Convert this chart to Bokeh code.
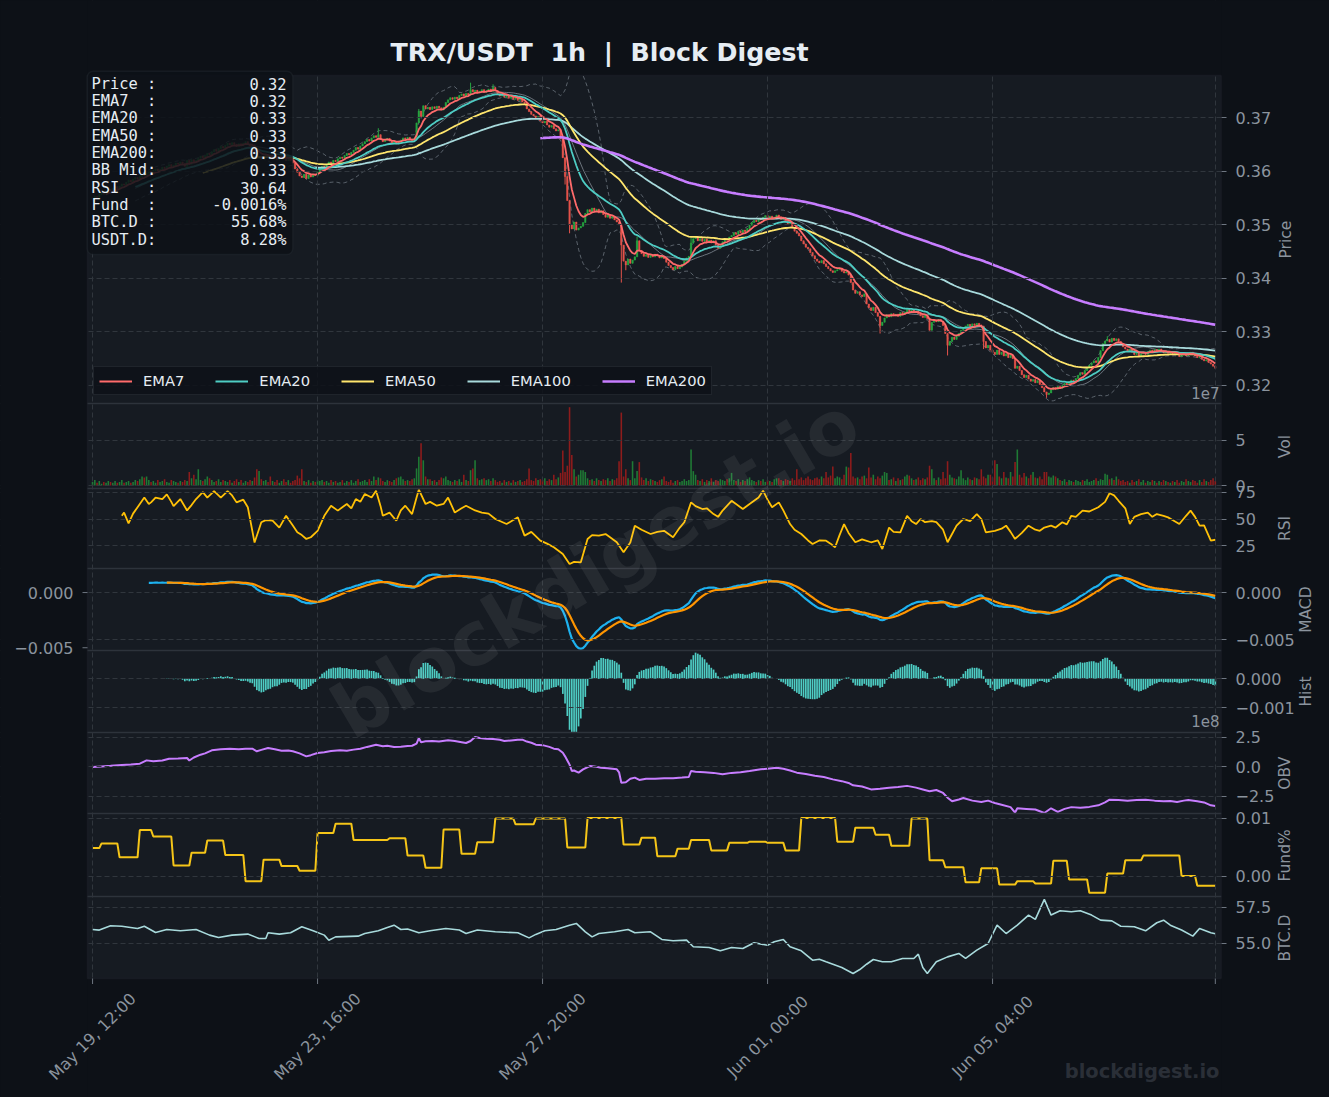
import numpy as np
import pandas as pd
from math import pi, radians
from bokeh.plotting import figure
from bokeh.models import (Range1d, LinearAxis, FixedTicker, Label, BoxAnnotation, Legend,
                          LegendItem, ColumnDataSource, Span, Arrow)
from bokeh.embed import file_html
from bokeh.resources import INLINE

# ------------------------------------------------------------------ data
START = "2025-05-19 12:00"          # first hourly candle
first_open = 0.3548

close = [
 0.3550, 0.3553, 0.3549, 0.3556, 0.3560, 0.3557, 0.3562, 0.3566, 0.3563, 0.3568,
 0.3571, 0.3567, 0.3572, 0.3576, 0.3574, 0.3579, 0.3583, 0.3580, 0.3585, 0.3588,
 0.3585, 0.3590, 0.3594, 0.3591, 0.3596, 0.3600, 0.3597, 0.3601, 0.3604, 0.3600,
 0.3603, 0.3607, 0.3605, 0.3609, 0.3612, 0.3608, 0.3611, 0.3615, 0.3613, 0.3617,
 0.3614, 0.3609, 0.3620, 0.3613, 0.3621, 0.3617, 0.3620, 0.3624, 0.3628, 0.3625,
 0.3629, 0.3633, 0.3630, 0.3636, 0.3640, 0.3637, 0.3642, 0.3646, 0.3643, 0.3648,
 0.3652, 0.3649, 0.3653, 0.3650, 0.3646, 0.3651, 0.3648, 0.3652, 0.3655, 0.3650,
 0.3647, 0.3649, 0.3632, 0.3624, 0.3628, 0.3622, 0.3626, 0.3630, 0.3627, 0.3624,
 0.3628, 0.3625, 0.3621, 0.3626, 0.3629, 0.3624, 0.3620, 0.3623, 0.3619, 0.3615,
 0.3604, 0.3598, 0.3591, 0.3588, 0.3594, 0.3586, 0.3593, 0.3589, 0.3594, 0.3592,
 0.3598, 0.3603, 0.3609, 0.3606, 0.3612, 0.3617, 0.3614, 0.3620, 0.3618, 0.3623,
 0.3626, 0.3624, 0.3629, 0.3633, 0.3630, 0.3635, 0.3639, 0.3644, 0.3641, 0.3647,
 0.3651, 0.3655, 0.3659, 0.3656, 0.3662, 0.3666, 0.3663, 0.3668, 0.3659, 0.3655,
 0.3658, 0.3661, 0.3656, 0.3652, 0.3655, 0.3651, 0.3654, 0.3658, 0.3662, 0.3659,
 0.3663, 0.3660, 0.3657, 0.3661, 0.3690, 0.3712, 0.3702, 0.3722, 0.3716, 0.3719,
 0.3715, 0.3720, 0.3717, 0.3721, 0.3718, 0.3714, 0.3719, 0.3728, 0.3733, 0.3737,
 0.3734, 0.3738, 0.3735, 0.3741, 0.3744, 0.3740, 0.3745, 0.3742, 0.3752, 0.3748,
 0.3751, 0.3746, 0.3749, 0.3752, 0.3747, 0.3750, 0.3753, 0.3749, 0.3756, 0.3750,
 0.3744, 0.3740, 0.3743, 0.3738, 0.3741, 0.3736, 0.3739, 0.3734, 0.3737, 0.3732,
 0.3735, 0.3729, 0.3726, 0.3716, 0.3711, 0.3706, 0.3703, 0.3699, 0.3702, 0.3694,
 0.3690, 0.3693, 0.3686, 0.3682, 0.3685, 0.3679, 0.3675, 0.3677, 0.3660, 0.3625,
 0.3590, 0.3545, 0.3500, 0.3492, 0.3505, 0.3490, 0.3494, 0.3497, 0.3504, 0.3521,
 0.3528, 0.3524, 0.3531, 0.3526, 0.3529, 0.3522, 0.3526, 0.3519, 0.3514, 0.3518,
 0.3512, 0.3515, 0.3509, 0.3505, 0.3500, 0.3462, 0.3432, 0.3425, 0.3436, 0.3428,
 0.3434, 0.3440, 0.3470, 0.3452, 0.3446, 0.3441, 0.3444, 0.3439, 0.3443, 0.3440,
 0.3445, 0.3442, 0.3438, 0.3441, 0.3437, 0.3430, 0.3424, 0.3420, 0.3416, 0.3422,
 0.3418, 0.3421, 0.3426, 0.3432, 0.3438, 0.3441, 0.3466, 0.3474, 0.3478, 0.3470,
 0.3474, 0.3469, 0.3473, 0.3467, 0.3471, 0.3466, 0.3470, 0.3462, 0.3456, 0.3460,
 0.3468, 0.3474, 0.3471, 0.3477, 0.3480, 0.3485, 0.3482, 0.3488, 0.3485, 0.3490,
 0.3487, 0.3493, 0.3499, 0.3504, 0.3508, 0.3506, 0.3511, 0.3509, 0.3514, 0.3517,
 0.3513, 0.3516, 0.3511, 0.3514, 0.3518, 0.3515, 0.3510, 0.3513, 0.3506, 0.3502,
 0.3503, 0.3494, 0.3488, 0.3484, 0.3479, 0.3470, 0.3464, 0.3458, 0.3455, 0.3448,
 0.3442, 0.3436, 0.3432, 0.3429, 0.3433, 0.3427, 0.3422, 0.3418, 0.3414, 0.3411,
 0.3414, 0.3416, 0.3419, 0.3413, 0.3410, 0.3412, 0.3406, 0.3392, 0.3378, 0.3372,
 0.3375, 0.3369, 0.3366, 0.3371, 0.3352, 0.3345, 0.3340, 0.3346, 0.3336, 0.3329,
 0.3312, 0.3318, 0.3326, 0.3332, 0.3328, 0.3334, 0.3330, 0.3333, 0.3329, 0.3336,
 0.3333, 0.3337, 0.3342, 0.3338, 0.3341, 0.3336, 0.3339, 0.3334, 0.3330, 0.3327,
 0.3331, 0.3325, 0.3303, 0.3318, 0.3322, 0.3319, 0.3323, 0.3320, 0.3312, 0.3297,
 0.3275, 0.3282, 0.3290, 0.3286, 0.3292, 0.3297, 0.3303, 0.3308, 0.3311, 0.3314,
 0.3310, 0.3315, 0.3312, 0.3316, 0.3313, 0.3311, 0.3282, 0.3270, 0.3275, 0.3266,
 0.3262, 0.3258, 0.3266, 0.3258, 0.3262, 0.3255, 0.3259, 0.3252, 0.3256, 0.3250,
 0.3232, 0.3236, 0.3228, 0.3220, 0.3215, 0.3219, 0.3212, 0.3208, 0.3211, 0.3205,
 0.3209, 0.3202, 0.3196, 0.3188, 0.3183, 0.3186, 0.3192, 0.3196, 0.3193, 0.3198,
 0.3195, 0.3200, 0.3204, 0.3201, 0.3206, 0.3210, 0.3207, 0.3213, 0.3219, 0.3224,
 0.3221, 0.3228, 0.3233, 0.3238, 0.3242, 0.3246, 0.3243, 0.3252, 0.3265, 0.3278,
 0.3283, 0.3286, 0.3281, 0.3288, 0.3284, 0.3287, 0.3282, 0.3278, 0.3272, 0.3268,
 0.3264, 0.3268, 0.3262, 0.3258, 0.3261, 0.3255, 0.3259, 0.3262, 0.3258, 0.3263,
 0.3266, 0.3262, 0.3267, 0.3264, 0.3268, 0.3265, 0.3261, 0.3264, 0.3260, 0.3263,
 0.3259, 0.3262, 0.3258, 0.3254, 0.3257, 0.3260, 0.3256, 0.3259, 0.3262, 0.3258,
 0.3255, 0.3252, 0.3254, 0.3249, 0.3246, 0.3248, 0.3243, 0.3240, 0.3236, 0.3232,
]

# hourly volume, millions
volume_m = [
 4, 6, 3, 5, 2, 4, 3, 5, 4, 3,   5, 3, 4, 6, 3, 4, 5, 3, 4, 6,
 5, 7, 10, 9, 10, 6, 4, 5, 3, 6,  4, 5, 7, 4, 3, 6, 5, 4, 3, 5,
 4, 6, 5, 15, 8, 12, 7, 18, 6, 5, 7, 10, 8, 6, 4, 5, 7, 4, 6, 5,
 4, 6, 3, 5, 7, 4, 6, 3, 5, 4,   6, 5, 9, 18, 16, 7, 5, 6, 4, 10,
 5, 4, 6, 3, 5, 7, 4, 6, 3, 5,   6, 11, 8, 18, 5, 4, 6, 3, 5, 4,
 6, 5, 6, 4, 5, 3, 6, 4, 5, 3,   4, 6, 3, 5, 4, 6, 3, 5, 7, 4,
 5, 6, 4, 7, 5, 10, 6, 9, 8, 5,  4, 6, 5, 4, 6, 8, 9, 10, 7, 5,
 6, 5, 7, 8, 19, 32, 47, 28, 10, 7, 7, 5, 6, 4, 6, 9, 8, 10, 6, 5,
 4, 6, 5, 7, 4, 12, 6, 5, 17, 19, 28, 8, 6, 7, 8, 6, 7, 5, 8, 6,
 4, 5, 3, 6, 4, 5, 3, 6, 4, 5,   6, 4, 5, 7, 19, 6, 5, 8, 6, 7,
 6, 8, 5, 7, 6, 12, 7, 9, 14, 39, 15, 22, 87, 34, 18, 10, 12, 17, 17, 15,
 8, 6, 7, 5, 8, 6, 5, 7, 6, 8,   5, 7, 6, 8, 27, 81, 10, 18, 8, 6,
 27, 8, 16, 26, 9, 6, 8, 5, 7, 6, 5, 4, 6, 7, 10, 5, 4, 6, 3, 5,
 6, 4, 5, 7, 5, 6, 40, 16, 12, 6, 5, 7, 4, 6, 5, 8, 4, 6, 5, 7,
 6, 5, 7, 8, 14, 6, 5, 7, 4, 6,  5, 7, 9, 6, 5, 4, 6, 5, 7, 4,
 6, 5, 4, 7, 8, 8, 6, 5, 7, 6,   5, 8, 6, 18, 7, 9, 6, 8, 10, 7,
 6, 8, 9, 7, 10, 8, 15, 9, 11, 21, 8, 10, 9, 7, 12, 21, 20, 36, 10, 8,
 9, 7, 10, 11, 8, 20, 9, 12, 7, 10, 8, 11, 15, 14, 6, 7, 9, 5, 8, 6,
 7, 10, 12, 11, 8, 6, 7, 9, 6, 8, 7, 9, 22, 18, 8, 6, 9, 7, 15, 8,
 27, 12, 9, 8, 7, 10, 17, 8, 6, 9, 7, 6, 9, 8, 7, 18, 10, 8, 12, 12,
 9, 28, 24, 10, 8, 15, 9, 8, 15, 10, 26, 40, 12, 9, 14, 10, 8, 12, 15, 9,
 8, 10, 7, 15, 15, 10, 9, 11, 10, 8, 6, 5, 7, 4, 6, 5, 4, 6, 5, 4,
 6, 5, 7, 4, 5, 6, 8, 5, 7, 6,   13, 12, 7, 8, 6, 10, 7, 5, 6, 4,
 5, 3, 6, 4, 5, 7, 4, 6, 3, 5,   4, 6, 5, 3, 5, 4, 6, 5, 4, 3,
 5, 4, 6, 3, 5, 4, 7, 5, 4, 6,   5, 3, 6, 4, 7, 5, 4, 6, 8, 5,
]

# notable wicks (hour -> price)
wick_high = {127: 0.3680, 145: 0.3716, 168: 0.3765, 178: 0.3762, 242: 0.3478,
             266: 0.3476, 300: 0.3522, 451: 0.3292}
wick_low = {210: 0.3575, 212: 0.3484, 235: 0.3392, 237: 0.3415, 350: 0.3297,
            380: 0.3256, 396: 0.3268, 424: 0.3177}

# RSI (hour, value)
rsi_points = [
 (13, 53), (14, 56), (16, 46), (18, 55), (20, 61), (23, 70), (25, 64), (26, 65.5), (28, 70),
 (31, 68.6), (33, 73), (35, 66), (36, 62), (39, 68.6), (42, 58), (44, 63), (46, 68.6),
 (49, 75), (51, 70), (54, 76), (57, 70), (60, 76), (62, 72), (64, 65.5), (67, 68), (69, 61),
 (70, 50), (72, 28), (75, 47), (77, 49), (80, 48.4), (83, 42), (86, 53), (89, 44),
 (91, 37.6), (93, 35), (95, 31.4), (97, 33), (100, 39), (103, 53), (106, 62.4), (109, 57.8),
 (111, 61), (113, 64), (115, 60), (117, 68.6), (119, 66), (121, 73.3), (124, 70), (126, 76.4),
 (128, 62), (129, 53), (132, 56), (135, 48.4), (137, 58), (139, 62.4), (142, 54.6),
 (144, 70), (145, 77.3), (148, 64), (150, 66), (153, 62.4), (156, 64), (158, 70), (161, 56),
 (164, 60), (166, 62.4), (170, 58), (173, 56), (176, 55), (179, 50), (184, 45.3),
 (187, 49), (189, 51.5), (192, 34.5), (195, 38), (199, 29.8), (202, 27), (205, 23.6),
 (209, 17.4), (212, 8), (214, 10), (217, 9.6), (220, 31.4), (222, 35), (225, 34.5),
 (228, 36), (230, 33), (233, 28.3), (236, 19), (239, 28), (241, 43.8), (244, 40),
 (248, 36), (251, 38), (254, 39), (256, 36), (258, 33), (261, 42), (263, 47), (266, 65.5),
 (268, 62), (271, 59.3), (273, 60), (276, 54.6), (278, 52), (280, 57.8), (284, 67),
 (286, 64), (289, 59.3), (292, 64), (294, 67), (296, 70), (298, 76.4), (300, 68),
 (302, 61), (305, 65.5), (307, 58), (310, 45.3), (312, 40), (315, 36), (318, 30),
 (320, 26.7), (323, 30), (326, 29.8), (328, 27), (330, 23.6), (332, 35), (334, 45.3),
 (336, 37), (339, 28.3), (342, 31), (346, 28.3), (349, 30), (351, 22), (354, 42),
 (356, 38), (359, 37.6), (362, 53), (364, 48), (366, 45.3), (368, 50), (370, 47),
 (373, 48), (375, 47), (378, 40), (380, 28.3), (382, 36), (384, 43.8), (387, 50),
 (390, 48), (393, 54.6), (395, 50), (397, 37.6), (401, 39), (404, 41), (406, 43.8),
 (408, 38), (410, 31.4), (413, 37), (416, 43.8), (419, 40), (421, 39), (423, 42),
 (426, 43.8), (428, 42), (431, 47), (433, 45), (435, 53), (437, 52), (440, 57.8),
 (443, 57), (447, 61), (450, 66), (452, 74), (454, 72), (456, 67), (459, 60), (461, 45.3),
 (463, 52), (466, 54.6), (469, 56), (471, 52), (473, 54.6), (476, 53), (478, 51.5),
 (480, 49), (483, 45.3), (486, 53), (488, 57.8), (490, 52), (492, 43.8), (494, 44),
 (497, 29.8), (499, 30.64),
]

# OBV (hour, value in 1e8)
obv_points = [
 (0, 0.0), (4, 0.05), (8, 0.1), (13, 0.17), (17, 0.2), (21, 0.28), (24, 0.56), (27, 0.48),
 (31, 0.55), (34, 0.7), (38, 0.72), (42, 0.76), (43, 0.55), (45, 0.8), (48, 1.04),
 (50, 1.15), (53, 1.41), (57, 1.5), (61, 1.55), (65, 1.5), (68, 1.55), (71, 1.55),
 (73, 1.33), (75, 1.45), (78, 1.6), (81, 1.5), (84, 1.38), (87, 1.4), (89, 1.33),
 (92, 1.15), (95, 0.9), (97, 1.0), (100, 1.19), (103, 1.25), (106, 1.35), (110, 1.41),
 (113, 1.38), (116, 1.47), (119, 1.55), (122, 1.7), (126, 1.89), (129, 1.75), (131, 1.8),
 (134, 1.69), (137, 1.72), (140, 1.78), (142, 1.8), (144, 1.98), (145, 2.45), (146, 2.1),
 (148, 2.17), (151, 2.2), (154, 2.15), (158, 2.26), (161, 2.2), (164, 2.1), (166, 2.03),
 (168, 2.2), (170, 2.54), (172, 2.45), (175, 2.4), (178, 2.37), (181, 2.3), (183, 2.2),
 (186, 2.25), (189, 2.3), (191, 2.31), (193, 2.15), (195, 2.05), (197, 1.89), (200, 1.85),
 (203, 1.7), (205, 1.55), (207, 1.5), (209, 1.2), (210, 0.9), (212, 0.2), (213, -0.34),
 (214, -0.3), (216, -0.48), (218, -0.2), (221, 0.08), (223, 0.05), (226, -0.06),
 (229, -0.1), (233, -0.2), (234, -0.45), (235, -1.33), (237, -1.3), (239, -1.0),
 (241, -0.9), (243, -1.1), (246, -1.0), (250, -1.0), (254, -0.95), (258, -0.95),
 (262, -0.9), (265, -0.85), (266, -0.34), (268, -0.4), (272, -0.45), (276, -0.5),
 (280, -0.62), (284, -0.5), (288, -0.45), (292, -0.35), (297, -0.2), (301, -0.12),
 (304, -0.06), (307, -0.15), (310, -0.3), (313, -0.48), (317, -0.6), (321, -0.75),
 (325, -0.85), (329, -1.05), (333, -1.2), (336, -1.35), (338, -1.55), (342, -1.65),
 (346, -1.9), (350, -1.85), (354, -1.75), (358, -1.7), (362, -1.6), (366, -1.75),
 (369, -1.9), (372, -2.05), (375, -1.95), (378, -2.2), (380, -2.6), (382, -2.9),
 (385, -2.75), (387, -2.63), (391, -2.85), (395, -2.96), (398, -2.85), (401, -3.05),
 (404, -3.2), (408, -3.4), (410, -3.86), (411, -3.5), (415, -3.55), (419, -3.6),
 (421, -3.75), (423, -3.9), (426, -3.5), (429, -3.8), (432, -3.55), (435, -3.4),
 (439, -3.45), (443, -3.38), (447, -3.25), (450, -3.0), (452, -2.77), (456, -2.8),
 (460, -2.85), (464, -2.8), (468, -2.77), (472, -2.85), (476, -2.9), (479, -2.88),
 (482, -2.96), (485, -2.85), (487, -2.8), (491, -2.9), (494, -3.0), (497, -3.25),
 (499, -3.3),
]

# BTC dominance (hour, %)
btcd_points = [
 (0, 55.97), (3, 55.93), (8, 56.23), (13, 56.20), (20, 56.04), (23, 56.20), (28, 55.76),
 (33, 55.97), (39, 55.88), (46, 55.97), (52, 55.58), (56, 55.42), (62, 55.58), (69, 55.65),
 (74, 55.35), (77, 55.35), (78, 55.74), (83, 55.65), (88, 55.74), (93, 56.16), (98, 55.88),
 (103, 55.58), (105, 55.23), (108, 55.46), (118, 55.51), (121, 55.69), (127, 55.88),
 (131, 56.11), (134, 56.27), (137, 55.97), (140, 56.0), (145, 55.74), (150, 55.88),
 (157, 56.04), (163, 55.93), (166, 55.69), (171, 55.93), (179, 55.81), (189, 55.74),
 (194, 55.39), (197, 55.63), (201, 55.88), (206, 55.97), (212, 56.27), (215, 56.39),
 (219, 55.81), (222, 55.46), (225, 55.69), (232, 55.81), (238, 55.97), (241, 55.74),
 (248, 55.81), (253, 55.28), (258, 55.19), (264, 55.23), (267, 54.77), (274, 54.72),
 (279, 54.49), (284, 54.72), (289, 54.65), (294, 55.05), (300, 54.88), (303, 55.12),
 (307, 55.28), (310, 54.77), (315, 54.49), (320, 53.84), (323, 53.91), (326, 53.73),
 (333, 53.33), (338, 52.92), (341, 53.19), (344, 53.56), (347, 53.89), (351, 53.73),
 (355, 53.73), (360, 53.96), (365, 53.96), (367, 54.26), (369, 53.33), (371, 52.92),
 (375, 53.73), (380, 54.07), (385, 54.31), (388, 53.96), (393, 54.54), (398, 55.0),
 (402, 56.27), (406, 55.69), (411, 56.27), (416, 56.97), (419, 56.67), (423, 58.06),
 (426, 56.97), (430, 57.27), (435, 57.2), (439, 57.27), (444, 56.97), (448, 56.62),
 (453, 56.57), (457, 56.2), (463, 56.16), (468, 55.88), (473, 56.44), (476, 56.62),
 (479, 56.27), (484, 55.93), (489, 55.51), (492, 56.04), (497, 55.74), (499, 55.68),
]

# funding rate: (hour the value starts, value)
fund_steps = [
 (0, 0.0049), (4, 0.0057), (12, 0.0033), (21, 0.0080), (27, 0.0069), (36, 0.0019),
 (44, 0.0041), (51, 0.0062), (59, 0.0037), (68, -0.0008), (76, 0.0029), (84, 0.0018),
 (92, 0.0010), (100, 0.0075), (108, 0.0091), (116, 0.0063), (132, 0.0066), (140, 0.0036),
 (148, 0.0015), (156, 0.0081), (164, 0.0039), (171, 0.0059), (179, 0.0100), (188, 0.0090),
 (197, 0.0100), (211, 0.0050), (220, 0.0101), (236, 0.0055), (244, 0.0067), (251, 0.0035),
 (260, 0.0048), (266, 0.0063), (275, 0.0045), (283, 0.0058), (292, 0.0060), (300, 0.0058),
 (308, 0.0045), (315, 0.0101), (331, 0.0060), (339, 0.0084), (348, 0.0072), (355, 0.0053),
 (364, 0.0100), (372, 0.0028), (379, 0.0016), (388, -0.0010), (395, 0.0014), (403, -0.0014),
 (411, -0.0008), (419, -0.0012), (427, 0.0027), (434, -0.0005), (443, -0.0028),
 (451, 0.0005), (459, 0.0028), (467, 0.0036), (484, 0.0001), (491, -0.0016),
]

x_tick_hours = [0, 100, 200, 300, 400, 499]

price_ticks = [0.32, 0.33, 0.34, 0.35, 0.36, 0.37]
vol_ticks = [0, 5e7]
rsi_ticks = [25, 50, 75]
macd_ticks = [0.0, -0.005]
hist_ticks = [0.0, -0.001]
obv_ticks = [2.5e8, 0.0, -2.5e8]
fund_ticks = [0.01, 0.0]
btcd_ticks = [55.0, 57.5]

stats_names = ["Price :", "EMA7  :", "EMA20 :", "EMA50 :", "EMA200:", "BB Mid:",
               "RSI   :", "Fund  :", "BTC.D :", "USDT.D:"]
stats_values = ["0.32", "0.32", "0.33", "0.33", "0.33", "0.33", "30.64",
                "-0.0016%", "55.68%", "8.28%"]

TITLE = "TRX/USDT  1h  |  Block Digest"
WATERMARK = "blockdigest.io"

# ------------------------------------------------------------------ derived series
n = len(close)
hrs = np.arange(n)
c = pd.Series(close, dtype=float)
o = c.shift(1)
o.iloc[0] = first_open
body_top = np.maximum(o.values, c.values)
body_bot = np.minimum(o.values, c.values)
hi = body_top.copy()
lo = body_bot.copy()
for h, v in wick_high.items():
    hi[h] = max(hi[h], v)
for h, v in wick_low.items():
    lo[h] = min(lo[h], v)
up = c.values >= o.values

UP, DN = "#26a641", "#e5534b"
VUP, VDN = "#1f7a35", "#8e1c1c"
cs = ColumnDataSource(dict(
    x=hrs, top=body_top, bot=body_bot, hi=hi, lo=lo,
    col=np.where(up, UP, DN), vcol=np.where(up, VUP, VDN),
    vol=np.array(volume_m, dtype=float) * 1e6,
))

ema = {s: c.ewm(span=s, adjust=False, min_periods=s).mean() for s in (7, 20, 50, 100, 200)}
bb_mid = c.rolling(20).mean()
bb_sd = c.rolling(20).std()
bb_up = bb_mid + 2 * bb_sd
bb_lo = bb_mid - 2 * bb_sd

ema12 = c.ewm(span=12, adjust=False, min_periods=12).mean()
ema26 = c.ewm(span=26, adjust=False, min_periods=26).mean()
macd = ema12 - ema26
signal = macd.ewm(span=9, adjust=False, min_periods=9).mean()
hist = macd - signal
hmask = hist.notna().values

fund = np.zeros(n)
for i, (h, v) in enumerate(fund_steps):
    end = fund_steps[i + 1][0] if i + 1 < len(fund_steps) else n
    fund[h:end] = v

start_ts = pd.Timestamp(START)
x_tick_text = [(start_ts + pd.Timedelta(hours=int(h))).strftime("%b %d, %H:%M") for h in x_tick_hours]

# ------------------------------------------------------------------ layout geometry (page px)
W, H = 1329, 1097
PL, PR_ = 87, 1221          # panel stack left / right edge
PX_PER_H = 2.25
PANEL_BANDS = {              # band top, band bottom, value at top, value at bottom
    "price": (75, 403, 0.37784, 0.31664),
    "vol": (403, 488, 9.11e7, -0.333e7),
    "rsi": (488, 568, 78.45, 3.83),
    "macd": (568, 650, 0.00255, -0.00614),
    "macd_left": (568, 650, 0.00218, -0.00525),
    "hist": (650, 732, 0.000976, -0.00185),
    "obv": (732, 813, 2.92e8, -3.94e8),
    "fund": (813, 896, 0.01086, -0.00345),
    "btcd": (896, 978, 58.26, 52.57),
}


def gy(py):
    """page y (down) -> main range value / screen y (up)"""
    return H - py


def band_range(t, b, vt, vb):
    k = (vt - vb) / (b - t)
    return Range1d(vb - (H - b) * k, vt + t * k)


def page_y(name, v):
    t, b, vt, vb = PANEL_BANDS[name]
    return t + (vt - v) / (vt - vb) * (b - t)


BG, PANEL, GRID = "#0d1117", "#161b22", "#30363d"
EDGE = "#2d333b"
TICK = "#8b949e"
TICKLINE = "#6e7681"
WHITE = "#e6edf3"
FONT = "DejaVu Sans"
MINUS = "\u2212"

x_start = -2.25 - PL / PX_PER_H
p = figure(width=W, height=H, x_range=Range1d(x_start, 501.75), y_range=Range1d(0, H),
           y_axis_location="right", x_axis_location=None, output_backend="svg",
           toolbar_location=None, min_border_left=0, min_border_right=W - PR_,
           min_border_top=0, min_border_bottom=0)
p.background_fill_color = BG
p.border_fill_color = BG
p.outline_line_color = None
p.styles = {"background-color": BG}
p.extra_y_ranges = {k: band_range(*v) for k, v in PANEL_BANDS.items()}

FW = PR_  # frame width in screen px (frame starts at page x 0)

# panel background (under the grid)
p.add_layout(BoxAnnotation(left=PL, right=FW + 20, top=gy(75), bottom=gy(978),
                           left_units="screen", right_units="screen",
                           top_units="screen", bottom_units="screen",
                           fill_color=PANEL, fill_alpha=1, line_color=None, level="underlay"))


def fmt(v, d):
    return f"{v:.{d}f}".replace("-", MINUS)


# right axis tick positions (main coordinates) and their texts
right_ticks = []
for name, ticks, lab_fn in [
        ("price", price_ticks, lambda v: fmt(v, 2)),
        ("vol", vol_ticks, lambda v: fmt(v / 1e7, 0)),
        ("rsi", rsi_ticks, lambda v: fmt(v, 0)),
        ("macd", macd_ticks, lambda v: fmt(v, 3)),
        ("hist", hist_ticks, lambda v: fmt(v, 3)),
        ("obv", obv_ticks, lambda v: fmt(v / 1e8, 1)),
        ("fund", fund_ticks, lambda v: fmt(v, 2)),
        ("btcd", btcd_ticks, lambda v: fmt(v, 1))]:
    for v in ticks:
        right_ticks.append((round(gy(page_y(name, v)), 3), lab_fn(v)))
rt_pos = [t for t, _ in right_ticks]

ax = p.yaxis[0]
ax.ticker = FixedTicker(ticks=rt_pos)
ax.major_label_overrides = {t: s for t, s in right_ticks}
ax.axis_line_color = None
ax.major_tick_line_color = TICKLINE
ax.major_tick_out = 5
ax.major_tick_in = 0
ax.minor_tick_line_color = None
ax.major_label_text_color = TICK
ax.major_label_text_font = FONT
ax.major_label_text_font_size = "16px"
ax.major_label_standoff = 9

# panel name labels (vertical, right side)
side1 = [("price", "Price", 38.0), ("vol", "Vol", 24.4), ("rsi", "RSI", 25.2),
         ("obv", "OBV", 33.4), ("fund", "Fund%", 53.1), ("btcd", "BTC.D", 47.8)]
side2 = [("macd", "MACD", 46.7), ("hist", "Hist", 30.1)]


def side_axis(items, standoff):
    ticks = []
    for name, text, length in items:
        t, b = PANEL_BANDS[name][:2]
        ticks.append((round(gy((t + b) / 2 + length / 2), 3), text))
    a = LinearAxis(ticker=FixedTicker(ticks=[t for t, _ in ticks]),
                   major_label_overrides={t: s for t, s in ticks},
                   major_label_orientation=pi / 2)
    a.axis_line_color = None
    a.major_tick_line_color = None
    a.major_tick_out = 0
    a.major_tick_in = 0
    a.minor_tick_line_color = None
    a.major_label_text_color = TICK
    a.major_label_text_font = FONT
    a.major_label_text_font_size = "15.5px"
    a.major_label_standoff = standoff
    p.add_layout(a, "right")


side_axis(side1, -12)
side_axis(side2, 0)

# grids (drawn above the panel background, below the data)
p.xgrid.ticker = FixedTicker(ticks=x_tick_hours)
p.ygrid.ticker = FixedTicker(ticks=rt_pos)
for g in (p.xgrid, p.ygrid):
    g.grid_line_color = GRID
    g.grid_line_dash = "5 3"
    g.grid_line_width = 1
    g.level = "glyph"

# ---------------------------------------------------------------- price panel
PR = "price"
p.line(hrs, bb_up, line_color="#8b949e", line_alpha=0.6, line_width=1, line_dash="4 3", y_range_name=PR)
p.line(hrs, bb_lo, line_color="#8b949e", line_alpha=0.6, line_width=1, line_dash="4 3", y_range_name=PR)
p.line(hrs, bb_mid, line_color="#8b949e", line_alpha=0.75, line_width=1, y_range_name=PR)
p.segment(x0="x", y0="lo", x1="x", y1="hi", line_color="col", line_width=1, source=cs, y_range_name=PR)
p.vbar(x="x", width=0.62, top="top", bottom="bot", fill_color="col", line_color="col",
       line_width=0.5, source=cs, y_range_name=PR)
ema_colors = {7: "#ff6b6b", 20: "#4ecdc4", 50: "#ffe66d", 100: "#a8dadc", 200: "#c77dff"}
ema_r = {}
for s in (100, 50, 20, 7, 200):
    ema_r[s] = p.line(hrs, ema[s], line_color=ema_colors[s], line_width=2.6 if s == 200 else 1.8,
                      y_range_name=PR)

# ---------------------------------------------------------------- lower panels
p.vbar(x="x", width=0.7, top="vol", bottom=0, fill_color="vcol", line_color=None, source=cs,
       y_range_name="vol")
p.line([h for h, _ in rsi_points], [v for _, v in rsi_points], line_color="#ffc107",
       line_width=1.8, y_range_name="rsi")
p.line(hrs, macd, line_color="#1eb2f0", line_width=2.2, y_range_name="macd")
p.line(hrs, signal, line_color="#ff9500", line_width=2.2, y_range_name="macd")
hb = PANEL_BANDS["hist"]
p.vbar(x=hrs[hmask], width=0.75, top=np.clip(hist.values[hmask], hb[3], hb[2]), bottom=0,
       fill_color="#4ecdc4", line_color=None, y_range_name="hist")
p.line([h for h, _ in obv_points], [v * 1e8 for _, v in obv_points], line_color="#c77dff",
       line_width=2, y_range_name="obv")
p.line(hrs, fund, line_color="#f5c518", line_width=2, y_range_name="fund")
p.line([h for h, _ in btcd_points], [v for _, v in btcd_points], line_color="#a8dadc",
       line_width=1.6, y_range_name="btcd")

# ---------------------------------------------------------------- frame furniture
for yy in (403, 488, 568, 650, 732, 813, 896):
    p.add_layout(Span(location=gy(yy), dimension="width", line_color=EDGE, line_width=1.5))


def cover(left, right, bottom, top):
    p.add_layout(BoxAnnotation(left=left, right=right, bottom=bottom, top=top,
                               left_units="screen", right_units="screen",
                               bottom_units="screen", top_units="screen",
                               fill_color=BG, fill_alpha=1, line_color=None))


cover(-20, FW + 20, gy(75), H + 20)       # title strip
cover(-20, FW + 20, -20, gy(978))         # x label strip
cover(-20, PL, -20, H + 20)               # left strip

p.add_layout(BoxAnnotation(left=PL, right=FW, top=gy(75), bottom=gy(978),
                           left_units="screen", right_units="screen",
                           top_units="screen", bottom_units="screen",
                           fill_alpha=0, line_color=EDGE, line_width=1.5))
for h in x_tick_hours:
    p.add_layout(Arrow(end=None, x_start=h, y_start=gy(978), x_end=h, y_end=gy(983.5),
                       line_color=TICKLINE, line_width=1))

leg = Legend(items=[LegendItem(label=f"EMA{s}", renderers=[ema_r[s]]) for s in (7, 20, 50, 100, 200)],
             orientation="horizontal", location=(93, gy(395)), margin=0, padding=5,
             spacing=31, glyph_width=33, glyph_height=16, label_standoff=11,
             label_text_color=WHITE, label_text_font=FONT, label_text_font_size="14.7px",
             background_fill_color=BG, background_fill_alpha=0.85,
             border_line_color="#30363d", border_line_width=1)
p.add_layout(leg)


def lab(gx, py, text, **kw):
    kw.setdefault("text_font", FONT)
    p.add_layout(Label(x=gx, y=gy(py), x_units="screen", y_units="screen", text=text, **kw))


# left-hand MACD scale
for v in macd_ticks:
    py = page_y("macd_left", v)
    p.add_layout(Arrow(end=None, start_units="screen", end_units="screen",
                       x_start=PL - 5, y_start=gy(py), x_end=PL, y_end=gy(py),
                       line_color=TICKLINE, line_width=1))
    lab(PL - 14, py, fmt(v, 3), text_color=TICK, text_font_size="16px",
        text_align="right", text_baseline="middle")

# stats box
p.add_layout(BoxAnnotation(left=86.7, right=292.3, top=gy(70.7), bottom=gy(254),
                           left_units="screen", right_units="screen",
                           top_units="screen", bottom_units="screen",
                           fill_color=BG, fill_alpha=0.86, line_color="#30363d",
                           line_width=1.5, border_radius=6))
for i, (nm, vv) in enumerate(zip(stats_names, stats_values)):
    py = 83.3 + 17.33 * i
    lab(91, py, nm.replace(" ", "\u00a0"), text_font="DejaVu Sans Mono", text_font_size="15.4px",
        text_color=WHITE, text_baseline="middle")
    lab(286, py, vv, text_font="DejaVu Sans Mono", text_font_size="15.4px",
        text_color=WHITE, text_baseline="middle", text_align="right")

lab(599, 52, TITLE.replace("  ", "\u00a0 "), text_font_style="bold", text_font_size="25.3px",
    text_color=WHITE, text_align="center", text_baseline="middle")
lab(1219, 392.5, "1e7", text_color=TICK, text_font_size="15px", text_align="right",
    text_baseline="middle")
lab(1219, 720, "1e8", text_color=TICK, text_font_size="15px", text_align="right",
    text_baseline="middle")

for h, t in zip(x_tick_hours, x_tick_text):
    if h == x_tick_hours[-1]:
        continue
    p.add_layout(Label(x=h, y=gy(1036), x_units="data", y_units="screen", text=t,
                       angle=pi / 4, text_align="center", text_baseline="middle",
                       text_color=TICK, text_font=FONT, text_font_size="16px"))

lab(1219, 1071, WATERMARK, text_color="#2a2f37", text_font_style="bold",
    text_font_size="19.5px", text_align="right", text_baseline="middle")
lab(595, 567, WATERMARK, text_color="#ffffff", text_alpha=0.065, text_font_style="bold",
    text_font_size="75px", angle=radians(30.5), text_align="center", text_baseline="middle")

open("out.html", "w").write(file_html(p, INLINE, title="TRX/USDT 1h"))
